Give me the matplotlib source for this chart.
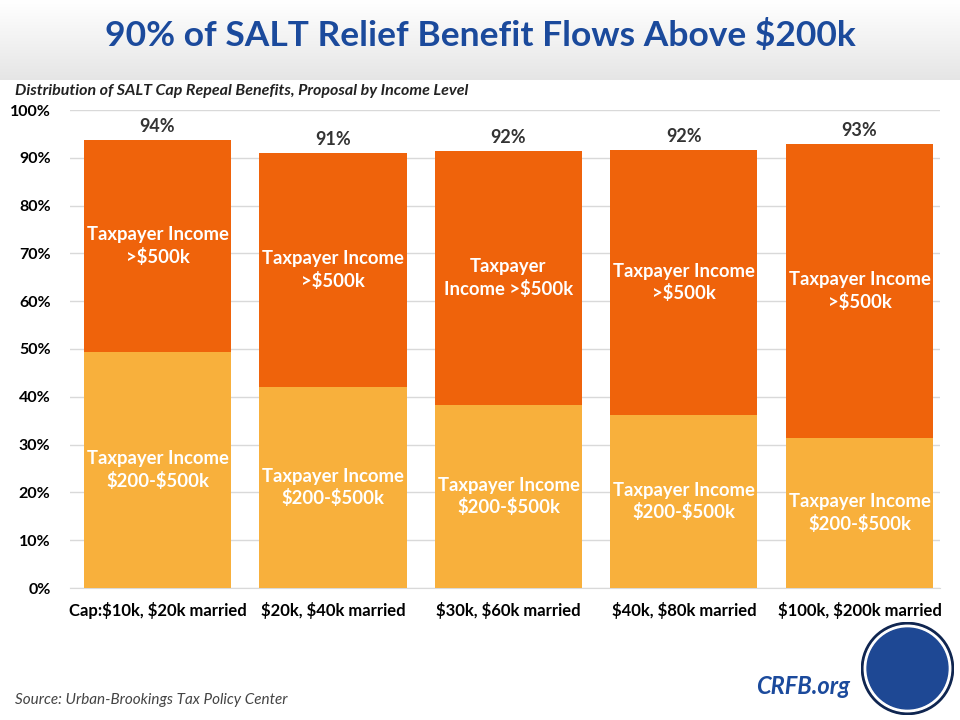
import matplotlib
matplotlib.use("Agg")
import matplotlib.pyplot as plt
import numpy as np
from matplotlib.patches import Circle

categories = ["Cap:$10k, $20k married", "$20k, $40k married", "$30k, $60k married",
              "$40k, $80k married", "$100k, $200k married"]
mid_income = [49.4, 42.1, 38.3, 36.2, 31.4]      # $200-500k
high_income = [44.3, 48.9, 53.1, 55.4, 61.5]     # >$500k
total_labels = ["94%", "91%", "92%", "92%", "93%"]
high_labels = ["Taxpayer Income\n>$500k", "Taxpayer Income\n>$500k", "Taxpayer\nIncome >$500k",
               "Taxpayer Income\n>$500k", "Taxpayer Income\n>$500k"]
mid_labels = ["Taxpayer Income\n$200-$500k"] * 5
yticks = [0, 10, 20, 30, 40, 50, 60, 70, 80, 90, 100]

plt.rcParams['font.family'] = ['Lato', 'DejaVu Sans']
plt.rcParams['text.parse_math'] = False

fig = plt.figure(figsize=(9.6, 7.2), dpi=100)
fig.patch.set_facecolor("white")

# header gradient
hdr = fig.add_axes([0, 1 - 80/720, 1, 80/720])
grad = np.linspace(1.0, 0.90, 100).reshape(-1, 1)
hdr.imshow(np.dstack([grad, grad, grad]), aspect='auto', extent=[0, 1, 0, 1], origin='upper')
hdr.axis('off')
fig.text(0.5, 1 - 36/720, "90% of SALT Relief Benefit Flows Above $200k", ha='center', va='center',
         fontsize=25.5, fontweight='bold', color='#1B4A9C')
fig.text(15/960, 1 - 91/720, "Distribution of SALT Cap Repeal Benefits, Proposal by Income Level",
         ha='left', va='center', fontsize=11.5, style='italic', fontweight='bold', color='#222222')

ax = fig.add_axes([70/960, 1 - 588/720, 870/960, 478/720])
x = np.arange(len(categories))
w = 0.838
c_mid = '#F8B03C'
c_high = '#EF630B'
ax.bar(x, mid_income, width=w, color=c_mid, zorder=3)
ax.bar(x, high_income, width=w, bottom=mid_income, color=c_high, zorder=3)

for i in range(len(x)):
    tot = mid_income[i] + high_income[i]
    ax.text(x[i], tot + 1.0, total_labels[i], ha='center', va='bottom', fontsize=13,
            fontweight='bold', color='#333333')
    ax.text(x[i], mid_income[i] + high_income[i] / 2, high_labels[i], ha='center', va='center',
            fontsize=13.3, fontweight='bold', color='white', linespacing=1.3)
    ax.text(x[i], mid_income[i] / 2, mid_labels[i], ha='center', va='center',
            fontsize=13.3, fontweight='bold', color='white', linespacing=1.3)

ax.set_ylim(0, 100)
ax.set_xlim(-0.4986, 4.459)
ax.set_yticks(yticks)
ax.set_yticklabels([f"{t}%" for t in yticks], fontsize=11.5, fontweight='bold', color='black')
ax.set_xticks(x)
ax.set_xticklabels(categories, fontsize=12, fontweight='bold', color='black')
ax.tick_params(axis='both', length=0)
ax.tick_params(axis='y', pad=14)
ax.tick_params(axis='x', pad=10)
ax.grid(axis='y', color='#D9D9D9', linewidth=1, zorder=0)
for s in ['top', 'right', 'left']:
    ax.spines[s].set_visible(False)
ax.spines['bottom'].set_color('#D9D9D9')

fig.text(15/960, 1 - 700/720, "Source: Urban-Brookings Tax Policy Center", ha='left', va='center',
         fontsize=11, style='italic', color='#444444')
fig.text(803/960, 1 - 686/720, "CRFB.org", ha='center', va='center', fontsize=17,
         style='italic', fontweight='bold', color='#1B4A9C')

# logo
lg = fig.add_axes([861/960, 1 - 715/720, 93/960, 93/720])
lg.set_xlim(-1, 1); lg.set_ylim(-1, 1); lg.set_aspect('equal'); lg.axis('off')
lg.add_patch(Circle((0, 0), 0.99, color='#0F2550'))
lg.add_patch(Circle((0, 0), 0.93, color='white'))
lg.add_patch(Circle((0, 0), 0.87, color='#1E4894'))

fig.savefig("out.png", dpi=100, facecolor='white')
